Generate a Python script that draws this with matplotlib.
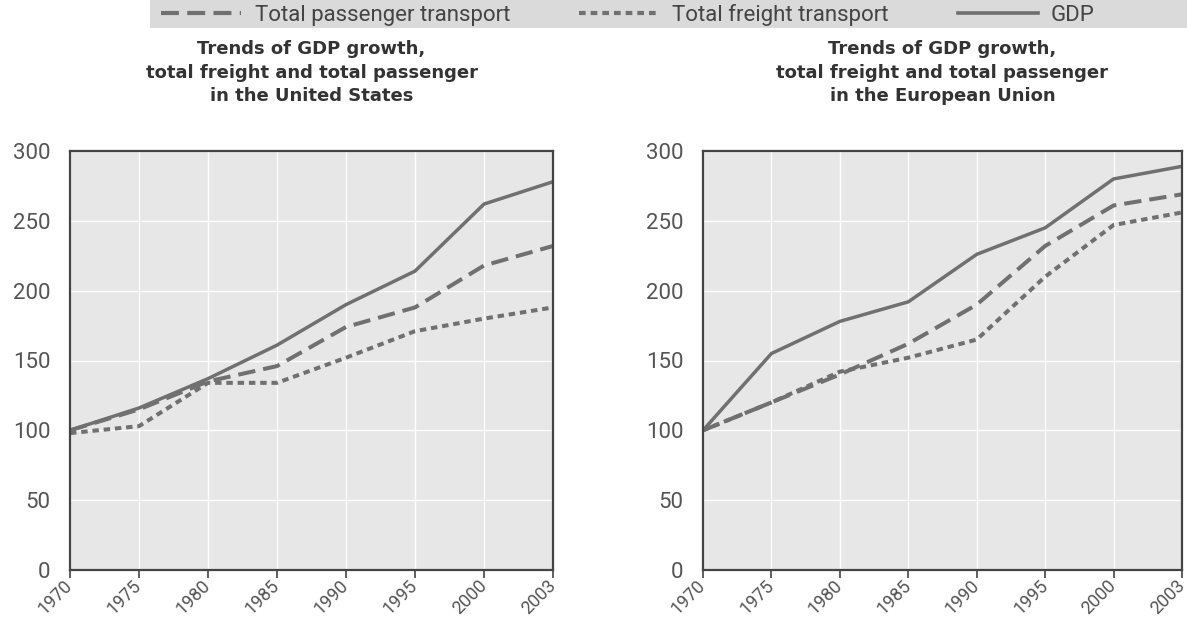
import numpy as np
import matplotlib
matplotlib.use("Agg")
import matplotlib.pyplot as plt
import matplotlib.transforms as mtrans
from matplotlib.patches import Rectangle
from matplotlib.lines import Line2D

years = ["1970", "1975", "1980", "1985", "1990", "1995", "2000", "2003"]

# United States
us_gdp = [100, 116, 137, 161, 190, 214, 262, 278]
us_passenger = [100, 115, 135, 146, 174, 188, 218, 232]
us_freight = [98, 103, 134, 134, 152, 171, 180, 188]

# European Union
eu_gdp = [100, 155, 178, 192, 226, 245, 280, 289]
eu_passenger = [100, 120, 140, 162, 190, 232, 261, 269]
eu_freight = [100, 120, 142, 152, 165, 210, 247, 256]

titles = [
    "Trends of GDP growth,\ntotal freight and total passenger\nin the United States",
    "Trends of GDP growth,\ntotal freight and total passenger\nin the European Union",
]
legend_labels = ["Total passenger transport", "Total freight transport", "GDP"]

line_col = "#707070"
face_col = "#e7e7e7"
dash = (0, (4.3, 2.0))
dots = (0, (1.6, 1.2))
plt.rcParams["font.family"] = ["Roboto", "DejaVu Sans"]

W, H = 1187, 620
fig = plt.figure(figsize=(W / 100, H / 100), dpi=100)

# grey band behind the legend
fig.patches.append(Rectangle((150 / W, 1 - 28 / H), 1 - 150 / W, 28 / H,
                             transform=fig.transFigure, facecolor="#dadada",
                             edgecolor="none", zorder=0))

axes = [
    fig.add_axes([70 / W, 1 - 570 / H, 483 / W, 419 / H]),
    fig.add_axes([703 / W, 1 - 570 / H, 479 / W, 419 / H]),
]
data = [(us_passenger, us_freight, us_gdp), (eu_passenger, eu_freight, eu_gdp)]

x = np.arange(len(years))
shift = mtrans.ScaledTranslation(3 / 100, 0, fig.dpi_scale_trans)
for ax, (pas, frt, gdp), title in zip(axes, data, titles):
    ax.set_facecolor(face_col)
    ax.plot(x, pas, color=line_col, lw=2.9, linestyle=dash)
    ax.plot(x, frt, color=line_col, lw=2.9, linestyle=dots)
    ax.plot(x, gdp, color=line_col, lw=2.5, linestyle="-")
    ax.set_xlim(0, len(years) - 1)
    ax.set_ylim(0, 300)
    ax.set_xticks(x)
    ax.set_xticklabels(years, rotation=45, ha="right", va="center",
                       rotation_mode="anchor")
    for lab in ax.get_xticklabels():
        lab.set_transform(lab.get_transform() + shift)
    ax.set_yticks(np.arange(0, 301, 50))
    ax.grid(True, color="white", lw=1)
    ax.set_axisbelow(True)
    ax.tick_params(axis="y", length=0, labelsize=16, labelcolor="#555555", pad=14)
    ax.tick_params(axis="x", length=6, width=1.2, color="#444444", labelsize=13,
                   labelcolor="#555555", pad=3)
    for s in ax.spines.values():
        s.set_color("#444444")
        s.set_linewidth(1.6)
    ax.set_title(title, fontsize=13, fontweight="bold", color="#333333",
                 family="DejaVu Sans", linespacing=1.38, pad=36)

handles = [
    Line2D([], [], color=line_col, lw=3, linestyle=dash),
    Line2D([], [], color=line_col, lw=3, linestyle=dots),
    Line2D([], [], color=line_col, lw=2.6),
]
fig.legend(handles, legend_labels, loc="center", bbox_to_anchor=(628 / W, 1 - 15 / H),
           ncol=3, frameon=False, fontsize=16, handlelength=3.6, handletextpad=0.6,
           columnspacing=3.1, labelcolor="#444444", borderpad=0)

fig.savefig("out.png", dpi=100)
